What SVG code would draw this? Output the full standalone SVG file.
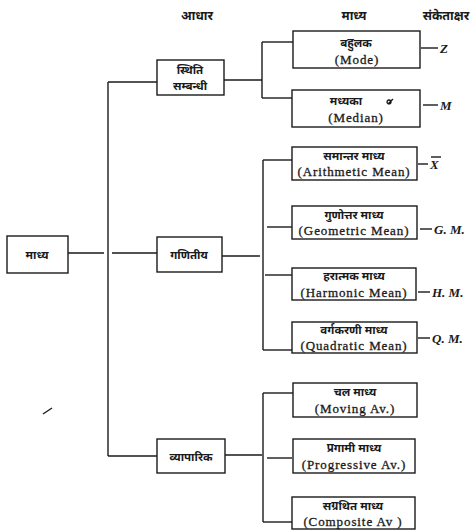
<svg xmlns="http://www.w3.org/2000/svg" width="476" height="530" viewBox="0 0 476 530">
<style>
.bg{fill:#ffffff}
.box{fill:none;stroke:#1a1a1a;stroke-width:1.4}
.ln{fill:none;stroke:#1a1a1a;stroke-width:1.4}
.hi{font-family:"Noto Sans","DejaVu Sans",sans-serif;font-size:11.5px;font-weight:bold;fill:#1a1a1a;text-anchor:middle}
.hd{font-family:"Noto Sans","DejaVu Sans",sans-serif;font-size:12.5px;font-weight:bold;fill:#1a1a1a;text-anchor:middle}
.en{font-family:"Liberation Serif","DejaVu Serif",serif;font-size:13px;letter-spacing:0.9px;fill:#1a1a1a;stroke:#1a1a1a;stroke-width:0.3;text-anchor:middle}
.sym{font-family:"Liberation Serif","DejaVu Serif",serif;font-size:13px;font-style:italic;font-weight:bold;fill:#1a1a1a}
</style>
<rect class="bg" x="0" y="0" width="476" height="530"/>
<g id="headers">
<text class="hd" x="197" y="20">आधार</text>
<text class="hd" x="354" y="20">माध्य</text>
<text class="hd" x="446" y="20">संकेताक्षर</text>
</g>
<g id="connectors">
<path class="ln" d="M68,253 H104"/>
<path class="ln" d="M108,82 V456"/>
<path class="ln" d="M108,82 H157"/>
<path class="ln" d="M112,253 H157"/>
<path class="ln" d="M108,456 H157"/>
<path class="ln" d="M224,80 H262"/>
<path class="ln" d="M262,42 V98"/>
<path class="ln" d="M262,42 H293"/>
<path class="ln" d="M262,98 H292"/>
<path class="ln" d="M222,256 H260"/>
<path class="ln" d="M263,160 V350"/>
<path class="ln" d="M263,160 H292"/>
<path class="ln" d="M267,227 H292"/>
<path class="ln" d="M265,275 H292"/>
<path class="ln" d="M263,350 H292"/>
<path class="ln" d="M225,455 H262"/>
<path class="ln" d="M263,393 V522"/>
<path class="ln" d="M263,393 H293"/>
<path class="ln" d="M267,458 H292"/>
<path class="ln" d="M263,522 H292"/>
<path class="ln" d="M421,48 H438"/>
<path class="ln" d="M423,105 H438"/>
<path class="ln" d="M418,164 H428"/>
<path class="ln" d="M420,229 H432"/>
<path class="ln" d="M418,292 H430"/>
<path class="ln" d="M418,338 H430"/>
</g>
<g id="n-madhya">
<rect class="box" x="7" y="236" width="61" height="37"/>
<text class="hi" x="37" y="259">माध्य</text>
</g>
<g id="n-sthiti">
<rect class="box" x="157" y="60" width="67" height="35"/>
<text class="hi" x="190" y="74">स्थिति</text>
<text class="hi" x="190" y="90">सम्बन्धी</text>
</g>
<g id="n-ganitiya">
<rect class="box" x="157" y="237" width="65" height="35"/>
<text class="hi" x="189" y="259">गणितीय</text>
</g>
<g id="n-vyaparik">
<rect class="box" x="157" y="439" width="68" height="34"/>
<text class="hi" x="191" y="461">व्यापारिक</text>
</g>
<g id="n-mode">
<rect class="box" x="293" y="31" width="127" height="37"/>
<text class="hi" x="356" y="47">बहुलक</text>
<text class="en" x="357" y="64">(Mode)</text>
</g>
<g id="n-median">
<rect class="box" x="292" y="90" width="128" height="37"/>
<text class="hi" x="346" y="105">मध्यका</text>
<path class="ln" d="M388,104 L393,99 M389,104 a2,2 0 1 1 0.1,0" stroke-width="1.6"/>
<text class="en" x="356" y="122">(Median)</text>
</g>
<g id="n-am">
<rect class="box" x="292" y="147" width="125" height="33"/>
<text class="hi" x="354" y="160">समान्तर माध्य</text>
<text class="en" x="354" y="176">(Arithmetic Mean)</text>
</g>
<g id="n-gm">
<rect class="box" x="292" y="206" width="125" height="33"/>
<text class="hi" x="354" y="219">गुणोत्तर माध्य</text>
<text class="en" x="354" y="235">(Geometric Mean)</text>
</g>
<g id="n-hm">
<rect class="box" x="292" y="268" width="124" height="32"/>
<text class="hi" x="354" y="280">हरात्मक माध्य</text>
<text class="en" x="354" y="297">(Harmonic Mean)</text>
</g>
<g id="n-qm">
<rect class="box" x="292" y="322" width="125" height="31"/>
<text class="hi" x="354" y="334">वर्गकरणी माध्य</text>
<text class="en" x="354" y="350">(Quadratic Mean)</text>
</g>
<g id="n-moving">
<rect class="box" x="293" y="383" width="124" height="34"/>
<text class="hi" x="355" y="396">चल माध्य</text>
<text class="en" x="355" y="413">(Moving Av.)</text>
</g>
<g id="n-progressive">
<rect class="box" x="293" y="439" width="122" height="34"/>
<text class="hi" x="354" y="452">प्रगामी माध्य</text>
<text class="en" x="354" y="469">(Progressive  Av.)</text>
</g>
<g id="n-composite">
<rect class="box" x="292" y="497" width="123" height="32"/>
<text class="hi" x="353" y="510">सग्रथित माध्य</text>
<text class="en" x="353" y="526">(Composite Av )</text>
</g>
<g id="symbols">
<text class="sym" x="440" y="53">Z</text>
<text class="sym" x="440" y="110">M</text>
<text class="sym" x="430" y="169">X</text>
<path class="ln" d="M431,157 H441" stroke-width="1"/>
<text class="sym" x="434" y="234">G. M.</text>
<text class="sym" x="432" y="297">H. M.</text>
<text class="sym" x="432" y="343">Q. M.</text>
</g>
<path class="ln" d="M43,414 L52,408" stroke-width="2"/>
</svg>
